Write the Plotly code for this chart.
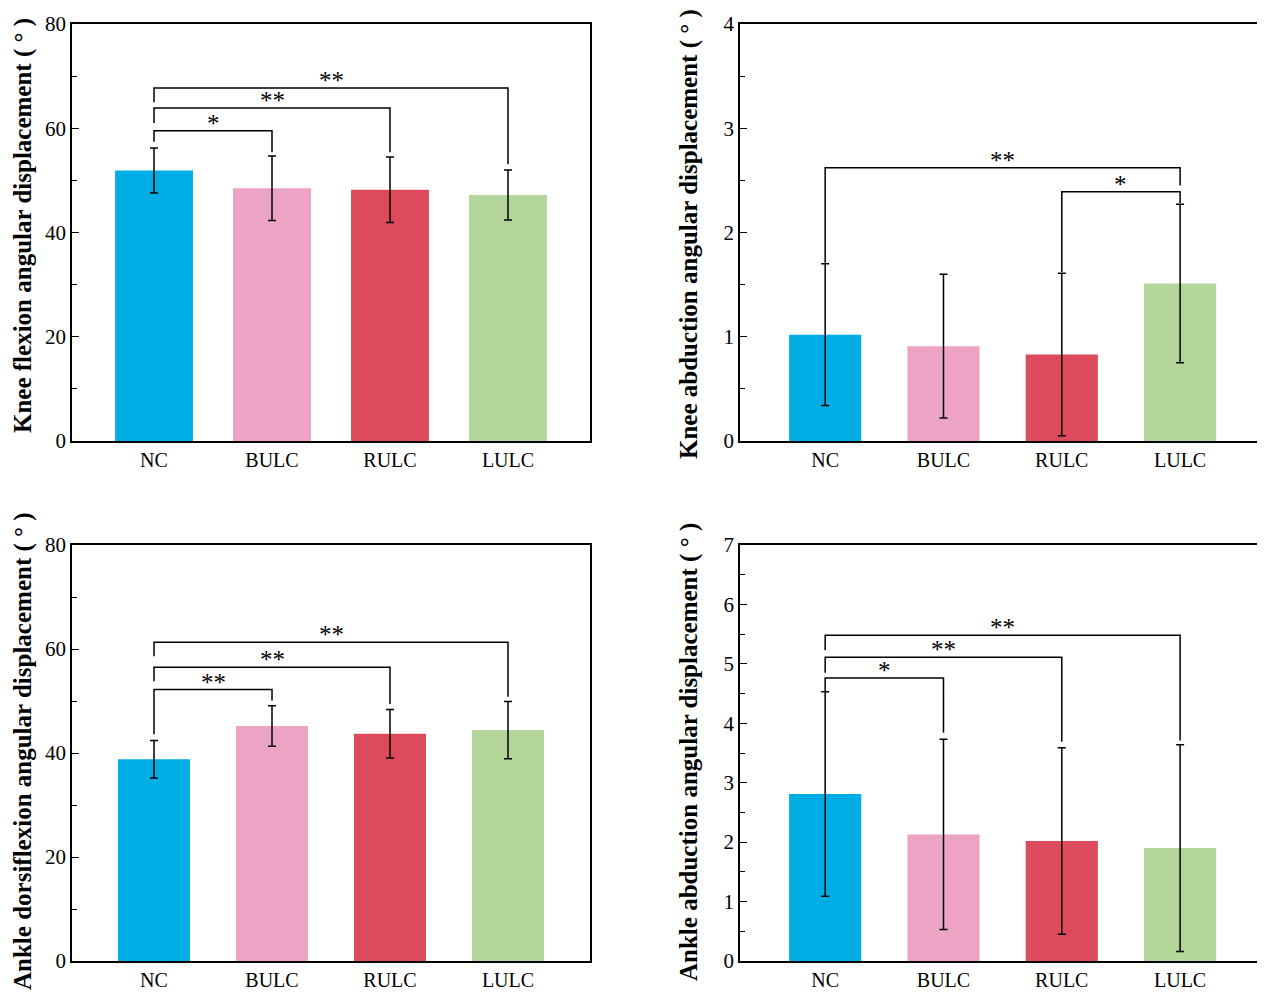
import plotly.graph_objects as go

# groups
groups = ["NC", "BULC", "RULC", "LULC"]
bar_colors = ["#00ADE5", "#ECA3C4", "#DC4A5B", "#B4D69A"]

# means and SD
knee_flex_mean = [51.9, 48.5, 48.2, 47.2]
knee_flex_sd = [4.3, 6.2, 6.3, 4.8]

knee_abd_mean = [1.02, 0.91, 0.83, 1.51]
knee_abd_sd = [0.68, 0.69, 0.78, 0.76]

ankle_dorsi_mean = [38.8, 45.2, 43.7, 44.4]
ankle_dorsi_sd = [3.6, 3.9, 4.65, 5.5]

ankle_abd_mean = [2.81, 2.13, 2.02, 1.90]
ankle_abd_sd = [1.72, 1.60, 1.57, 1.74]

# significance brackets: (from group, to group, left end, top, right end, label)
knee_flex_sig = [(0, 1, 57.4, 59.5, 55.4, "*"),
                 (0, 2, 61.0, 63.9, 55.4, "**"),
                 (0, 3, 65.0, 67.7, 53.1, "**")]
knee_abd_sig = [(0, 3, 1.71, 2.62, 2.45, "**"),
                (2, 3, 1.62, 2.39, 2.28, "*")]
ankle_dorsi_sig = [(0, 1, 43.6, 52.2, 50.1, "**"),
                   (0, 2, 53.8, 56.5, 49.4, "**"),
                   (0, 3, 58.6, 61.3, 50.8, "**")]
ankle_abd_sig = [(0, 1, 4.53, 4.76, 3.84, "*"),
                 (0, 2, 4.85, 5.11, 3.69, "**"),
                 (0, 3, 5.23, 5.48, 3.71, "**")]

panels = [
    dict(mean=knee_flex_mean, sd=knee_flex_sd, sig=knee_flex_sig, ymax=80, dtick=20,
         title="Knee flexion angular displacement ( ° )", width=0.66, tcy=226),
    dict(mean=knee_abd_mean, sd=knee_abd_sd, sig=knee_abd_sig, ymax=4, dtick=1,
         title="Knee abduction angular displacement ( ° )", width=0.61, tcy=234),
    dict(mean=ankle_dorsi_mean, sd=ankle_dorsi_sd, sig=ankle_dorsi_sig, ymax=80, dtick=20,
         title="Ankle dorsiflexion angular displacement ( ° )", width=0.61, tcy=751),
    dict(mean=ankle_abd_mean, sd=ankle_abd_sd, sig=ankle_abd_sig, ymax=7, dtick=1,
         title="Ankle abduction angular displacement ( ° )", width=0.61, tcy=752),
]

# figure is drawn inside the page's 8px body margin
W, H = 1250, 984
off = 8
xdoms = [[(72 - off) / W, (590 - off) / W], [(740 - off) / W, 1249 / W]]
xranges = [[-0.695, 3.695], [-0.72, 3.65]]
ydoms = [[1 - (441 - off) / H, 1 - (24 - off) / H],
         [1 - (961 - off) / H, 1 - (545 - off) / H]]
title_x = [(23 - off) / W, (689 - off) / W]

fig = go.Figure()
font_family = "Liberation Serif, Times New Roman, serif"

for k, p in enumerate(panels):
    row, col = k // 2, k % 2
    n = "" if k == 0 else str(k + 1)
    xa, ya = "x" + n, "y" + n

    fig.add_trace(go.Bar(
        x=groups, y=p["mean"], width=p["width"],
        marker=dict(color=bar_colors, line=dict(width=0)),
        error_y=dict(type="data", array=p["sd"], visible=True,
                     color="black", thickness=1.5, width=4),
        xaxis=xa, yaxis=ya, showlegend=False))

    for (i, j, left_end, top, right_end, label) in p["sig"]:
        fig.add_trace(go.Scatter(
            x=[groups[i], groups[i], groups[j], groups[j]],
            y=[left_end, top, top, right_end],
            mode="lines", line=dict(color="black", width=1.5),
            xaxis=xa, yaxis=ya, showlegend=False, hoverinfo="skip"))
        fig.add_annotation(
            x=(i + j) / 2, y=top, xref=xa, yref=ya, text=label,
            showarrow=False, yanchor="bottom", yshift=-8,
            font=dict(family=font_family, size=25, color="black"))

    fig.layout["xaxis" + n] = dict(
        domain=xdoms[col], anchor=ya, range=xranges[col], automargin=False,
        showline=True, linecolor="black", linewidth=1.5, mirror=True,
        ticks="", showgrid=False, zeroline=False,
        tickfont=dict(family=font_family, size=20, color="black"))
    fig.layout["yaxis" + n] = dict(
        domain=ydoms[row], anchor=xa, range=[0, p["ymax"]], dtick=p["dtick"],
        automargin=False,
        showline=True, linecolor="black", linewidth=1.5, mirror=True,
        ticks="inside", ticklen=7, tickwidth=1.2, tickcolor="black",
        minor=dict(ticks="inside", ticklen=5, dtick=p["dtick"] / 2, tickcolor="black"),
        showgrid=False, zeroline=False,
        tickfont=dict(family=font_family, size=21, color="black"))

    fig.add_annotation(
        x=title_x[col], y=1 - (p["tcy"] - off) / H, xref="paper", yref="paper",
        text="<b>" + p["title"] + "</b>", textangle=-90, showarrow=False,
        xanchor="center", yanchor="middle", borderpad=0,
        font=dict(family=font_family, size=25, color="black"))

fig.update_layout(
    width=W, height=H,
    margin=dict(l=0, r=0, t=0, b=0),
    plot_bgcolor="white", paper_bgcolor="white",
    bargap=0.3)

fig.write_html("out.html")
